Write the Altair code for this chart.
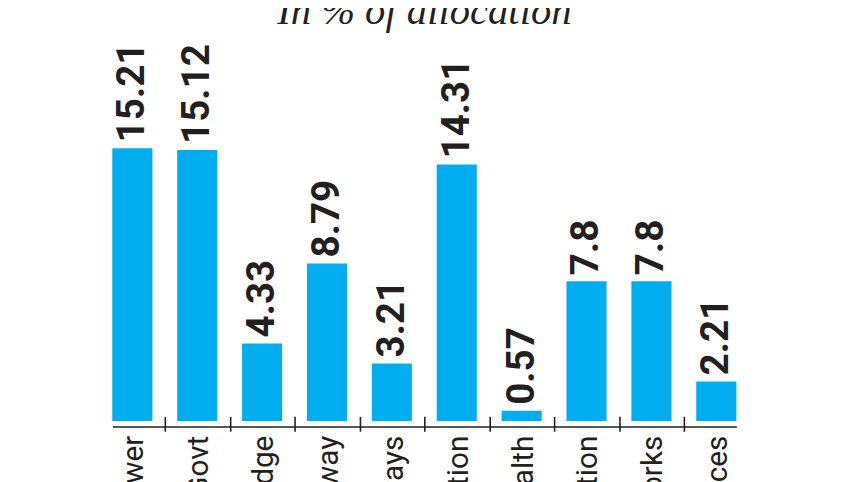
import altair as alt
import pandas as pd

categories = ["Power", "Local Govt", "Road & Bridge", "Highway", "Railways",
              "Education", "Health", "Irrigation", "Public Works", "Water Resources"]
values = [15.21, 15.12, 4.33, 8.79, 3.21, 14.31, 0.57, 7.8, 7.8, 2.21]
value_labels = [str(v) for v in values]
title_text = "In % of allocation"

df = pd.DataFrame({"category": categories, "value": values, "label": value_labels})

INK = "#231f20"
BLUE = "#00aeef"

x_scale = alt.Scale(paddingInner=0.382, paddingOuter=0)
y_scale = alt.Scale(domain=[0, 20])

base = alt.Chart(df)

bars = base.mark_bar(color=BLUE).encode(
    x=alt.X("category:N", sort=categories, scale=x_scale, title=None,
            axis=alt.Axis(orient="bottom", offset=5.6, domain=True, domainColor=INK,
                          domainWidth=1.6, ticks=False, tickSize=0, labelAngle=270,
                          labelFont="Roboto", labelFontSize=30, labelColor=INK,
                          labelPadding=8.7, labelOffset=2, labelLimit=500,
                          labelOverlap=False, grid=False)),
    y=alt.Y("value:Q", scale=y_scale, axis=None),
)

text = base.mark_text(angle=270, align="left", baseline="middle", dx=6,
                      font="Roboto", fontSize=39, fontWeight="bold", color=INK).encode(
    x=alt.X("category:N", sort=categories, scale=x_scale, title=None,
            axis=alt.Axis(orient="bottom", offset=-4.7, domain=False, labels=False,
                          ticks=True, tickSize=15, tickWidth=1.6, tickColor=INK,
                          bandPosition=0, tickOffset=-12.5, values=categories[1:],
                          grid=False)),
    y=alt.Y("value:Q", scale=y_scale, axis=None),
    text="label:N",
)

chart = alt.layer(bars, text).resolve_axis(x="independent").properties(
    width=630,
    height=362,
    padding={"left": 105.3, "top": 52.7, "right": 113.7, "bottom": 59.3},
    autosize=alt.AutoSizeParams(type="none"),
    title=alt.TitleParams(title_text, font="Liberation Serif", fontSize=41,
                          fontStyle="italic", fontWeight="normal", color=INK,
                          anchor="middle", baseline="alphabetic", offset=-22),
).configure_view(stroke=None)

chart.save("out.html", embed_options={"renderer": "svg", "actions": False})
